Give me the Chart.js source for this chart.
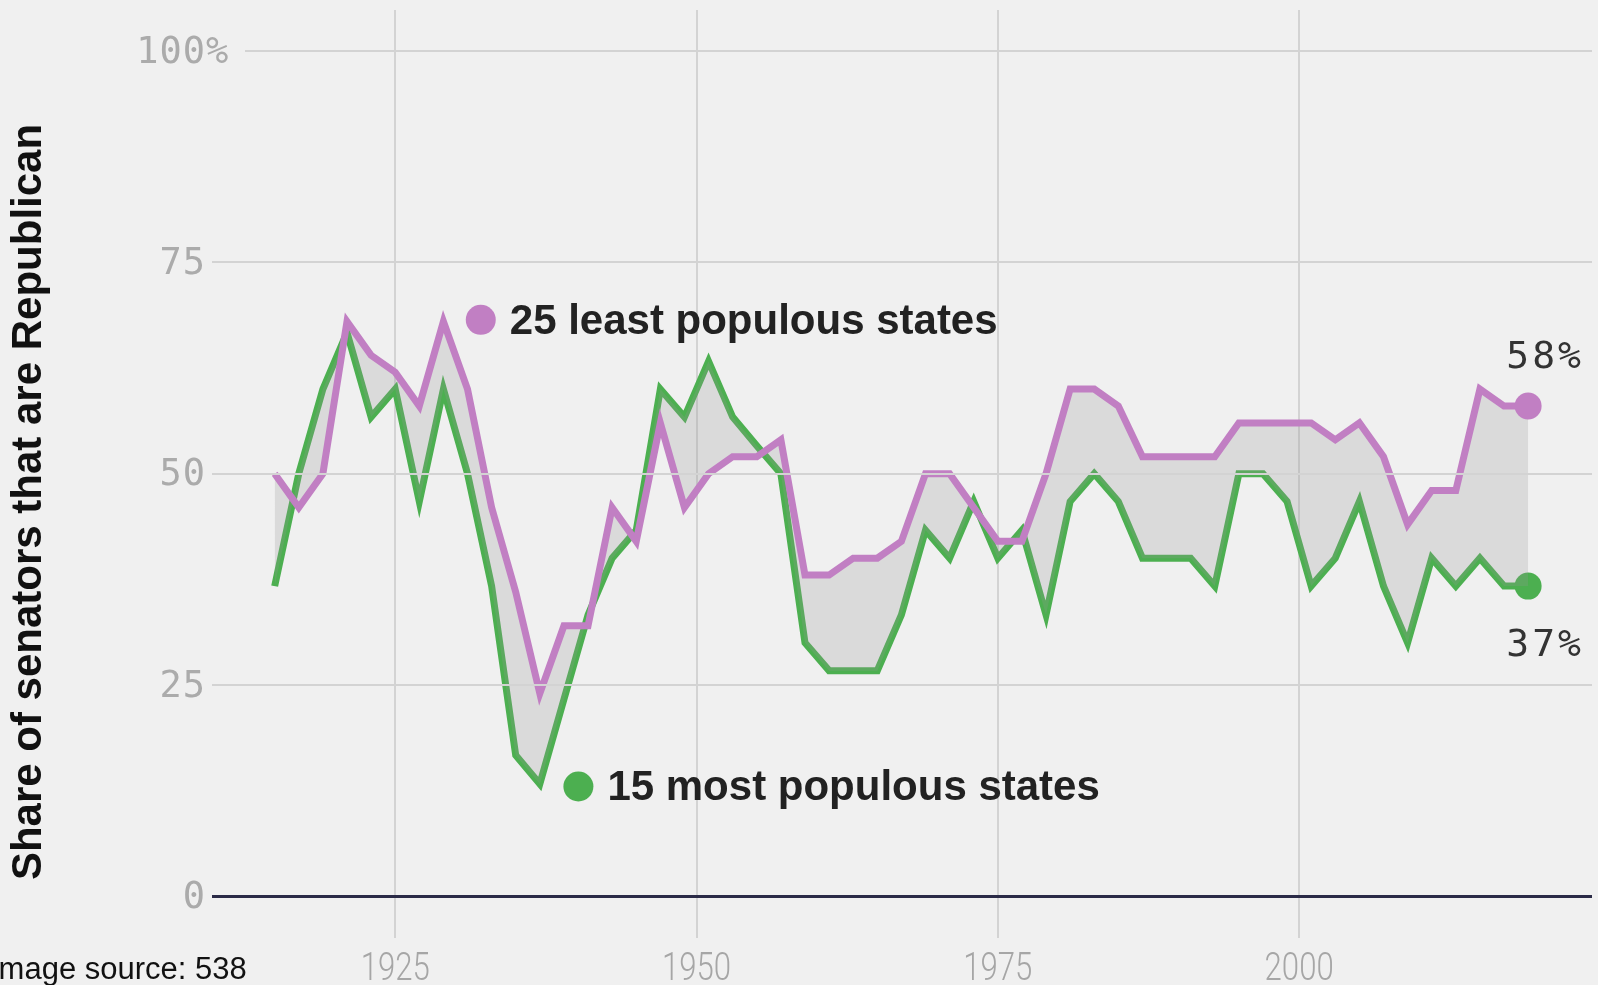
<!DOCTYPE html>
<html>
<head>
<meta charset="utf-8">
<title>Share of senators that are Republican</title>
<script src="https://cdn.jsdelivr.net/npm/chart.js@4/dist/chart.umd.min.js"></script>
<style>
  html, body { margin: 0; padding: 0; background: #f0f0f0; overflow: hidden; }
  #wrap { position: absolute; left: 0; top: 0; width: 1598px; height: 985px; }
  canvas { display: block; }
</style>
</head>
<body>
<div id="wrap"><canvas id="c" width="1598" height="985"></canvas></div>
<script>
// ---- data ----
const years = [1915,1917,1919,1921,1923,1925,1927,1929,1931,1933,
               1935,1937,1939,1941,1943,1945,1947,1949,1951,1953,
               1955,1957,1959,1961,1963,1965,1967,1969,1971,1973,
               1975,1977,1979,1981,1983,1985,1987,1989,1991,1993,
               1995,1997,1999,2001,2003,2005,2007,2009,2011,2013,
               2015,2017,2019];
const leastPopulous = [50,46,50,68,64,62,58,68,60,46,
                       36,24,32,32,46,42,56,46,50,52,
                       52,54,38,38,40,40,42,50,50,46,
                       42,42,50,60,60,58,52,52,52,52,
                       56,56,56,56,54,56,52,44,48,48,
                       60,58,58];
const mostPopulous = [36.7,50,60,66.7,56.7,60,46.7,60,50,36.7,
                      16.7,13.3,23.3,33.3,40,43.3,60,56.7,63.3,56.7,
                      53.3,50,30,26.7,26.7,26.7,33.3,43.3,40,46.7,
                      40,43.3,33.3,46.7,50,46.7,40,40,40,36.7,
                      50,50,46.7,36.7,40,46.7,36.7,30,40,36.7,
                      40,36.7,36.7];
const seriesNames = ['25 least populous states', '15 most populous states'];
const xTicks = [1925, 1950, 1975, 2000];
const yTicks = [0, 25, 50, 75, 100];
const yTickLabels = ['0', '25', '50', '75', '100'];
const yTitle = 'Share of senators that are Republican';
const sourceText = 'Image source: 538';

// ---- styles ----
const PINK = '#c17fc3';
const GREEN = '#4caf50';
const BG = '#f0f0f0';
const GRID = '#d3d3d3';
const ZERO = '#2b2b47';

// annotation anchors (in data units)
const seriesLabelAnchors = [
  { x: 1932.1, y: 68.2 },
  { x: 1940.2, y: 13.0 }
];

const lastIdx = years.length - 1;
const ptRadius = (ctx) => ctx.dataIndex === lastIdx ? 13.5 : 0;

const decor = {
  id: 'decor',
  beforeDraw(chart) {
    const ctx = chart.ctx;
    ctx.save();
    ctx.fillStyle = BG;
    ctx.fillRect(0, 0, chart.width, chart.height);
    ctx.restore();
  },
  beforeDatasetsDraw(chart) {
    // 100% gridline starts after its label
    const ctx = chart.ctx, ys = chart.scales.y, area = chart.chartArea;
    const y = Math.round(ys.getPixelForValue(100));
    ctx.save();
    ctx.strokeStyle = GRID;
    ctx.lineWidth = 2;
    ctx.beginPath();
    ctx.moveTo(245, y);
    ctx.lineTo(area.right, y);
    ctx.stroke();
    ctx.restore();
  },
  afterDraw(chart) {
    const ctx = chart.ctx, xs = chart.scales.x, ys = chart.scales.y;
    ctx.save();
    // y tick labels
    ctx.font = '37px "DejaVu Sans Mono"';
    ctx.fillStyle = '#ababab';
    ctx.textBaseline = 'middle';
    try { ctx.letterSpacing = '1px'; } catch (e) {}
    yTicks.forEach((v, i) => {
      const y = ys.getPixelForValue(v) + 2;
      ctx.textAlign = 'right';
      ctx.fillText(yTickLabels[i], 206, y);
      if (v === 100) {
        ctx.textAlign = 'left';
        ctx.fillText('%', 206, y);
      }
    });
    // x tick labels (condensed)
    try { ctx.letterSpacing = '0px'; } catch (e) {}
    ctx.font = '300 38px Roboto';
    ctx.fillStyle = '#a6a6a6';
    ctx.textAlign = 'center';
    ctx.textBaseline = 'alphabetic';
    xTicks.forEach(v => {
      const x = xs.getPixelForValue(v);
      ctx.save();
      ctx.translate(x, 980);
      ctx.scale(0.82, 1);
      ctx.fillText(String(v), 0, 0);
      ctx.restore();
    });
    // y title
    ctx.save();
    ctx.font = 'bold 42px "Liberation Sans"';
    ctx.fillStyle = '#111';
    ctx.textAlign = 'center';
    ctx.textBaseline = 'alphabetic';
    ctx.translate(41, 502);
    ctx.rotate(-Math.PI / 2);
    ctx.fillText(yTitle, 0, 0);
    ctx.restore();
    // source
    ctx.font = '31px "Liberation Sans"';
    ctx.fillStyle = '#111';
    ctx.textAlign = 'left';
    ctx.textBaseline = 'alphabetic';
    ctx.fillText(sourceText, -10, 979);
    // series labels with dots
    const colors = [PINK, GREEN];
    seriesLabelAnchors.forEach((a, i) => {
      const cx = xs.getPixelForValue(a.x), cy = ys.getPixelForValue(a.y);
      ctx.beginPath();
      ctx.fillStyle = colors[i];
      ctx.arc(cx, cy, 15, 0, Math.PI * 2);
      ctx.fill();
      ctx.font = 'bold 42px "Liberation Sans"';
      ctx.fillStyle = '#222';
      ctx.textAlign = 'left';
      ctx.textBaseline = 'alphabetic';
      ctx.fillText(seriesNames[i], cx + 29, cy + 14);
    });
    // end value labels
    ctx.font = '38px "DejaVu Sans Mono"';
    ctx.fillStyle = '#333';
    ctx.textAlign = 'center';
    try { ctx.letterSpacing = '3px'; } catch (e) {}
    const p0 = chart.getDatasetMeta(0).data[lastIdx];
    const p1 = chart.getDatasetMeta(1).data[lastIdx];
    ctx.fillText(Math.round(leastPopulous[lastIdx]) + '%', p0.x + 17, p0.y - 38);
    ctx.fillText(Math.round(mostPopulous[lastIdx]) + '%', p1.x + 17, p1.y + 70);
    ctx.restore();
  }
};

new Chart(document.getElementById('c'), {
  type: 'line',
  data: {
    labels: years,
    datasets: [
      {
        label: seriesNames[0],
        data: years.map((y, i) => ({ x: y, y: leastPopulous[i] })),
        borderColor: PINK,
        backgroundColor: 'rgba(150,150,150,0.24)',
        pointBackgroundColor: PINK,
        pointBorderWidth: 0,
        pointRadius: ptRadius,
        borderWidth: 7,
        borderJoinStyle: 'miter',
        tension: 0,
        fill: { target: 1 },
        order: 1
      },
      {
        label: seriesNames[1],
        data: years.map((y, i) => ({ x: y, y: mostPopulous[i] })),
        borderColor: GREEN,
        backgroundColor: GREEN,
        pointBackgroundColor: GREEN,
        pointBorderWidth: 0,
        pointRadius: ptRadius,
        borderWidth: 7,
        borderJoinStyle: 'miter',
        tension: 0,
        fill: false,
        order: 2
      }
    ]
  },
  options: {
    responsive: false,
    animation: false,
    devicePixelRatio: 1,
    layout: { autoPadding: false, padding: { left: 212, right: 6, top: 10, bottom: 47 } },
    plugins: {
      legend: { display: false },
      tooltip: { enabled: false },
      title: { display: false }
    },
    elements: { point: { hoverRadius: 0 } },
    scales: {
      x: {
        type: 'linear',
        min: 1909.8,
        max: 2024.3,
        afterBuildTicks: s => { s.ticks = xTicks.map(v => ({ value: v })); },
        afterFit: s => { s.height = 0; },
        ticks: { display: false },
        border: { display: false },
        grid: { color: GRID, lineWidth: 2, drawTicks: false }
      },
      y: {
        type: 'linear',
        min: -4.92,
        max: 104.84,
        afterBuildTicks: s => { s.ticks = yTicks.map(v => ({ value: v })); },
        afterFit: s => { s.width = 0; },
        ticks: { display: false },
        border: { display: false },
        grid: {
          drawTicks: false,
          color: c => c.tick.value === 0 ? ZERO : (c.tick.value === 100 ? 'rgba(0,0,0,0)' : GRID),
          lineWidth: c => c.tick.value === 0 ? 3 : 2,
          z: 1
        }
      }
    }
  },
  plugins: [decor]
});
</script>
</body>
</html>
